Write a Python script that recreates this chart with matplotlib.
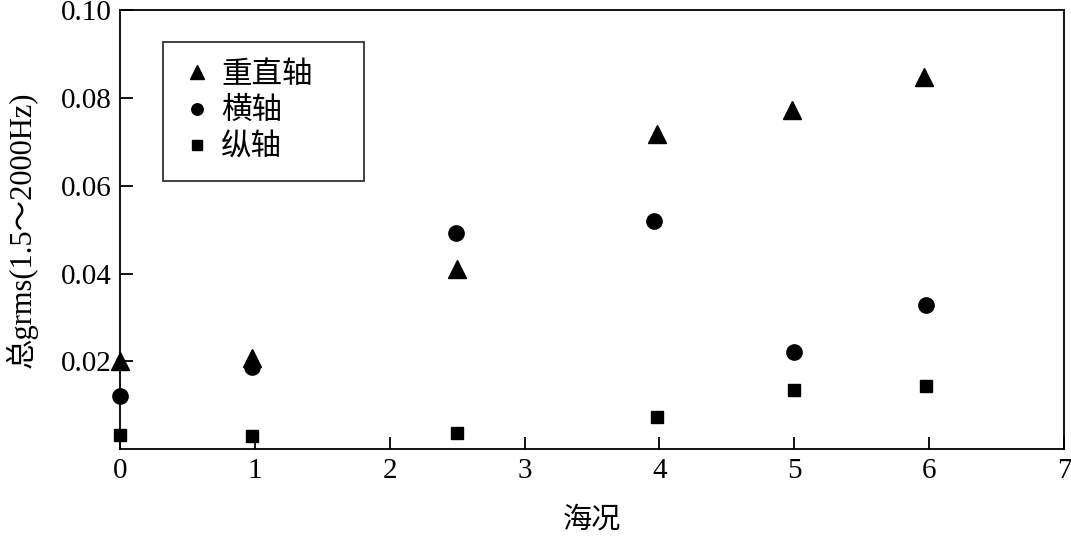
import matplotlib
matplotlib.use('Agg')
import matplotlib.pyplot as plt
import numpy as np

plt.rcParams['font.family'] = ['Liberation Serif', 'Noto Sans CJK SC']

# 海况
x_vert = [0.0, 0.98, 2.5, 3.98, 4.98, 5.96]
x_horz = [0.0, 0.98, 2.49, 3.96, 5.0, 5.98]
x_long = [0.0, 0.98, 2.5, 3.98, 5.0, 5.98]
# 总grms
y_vert = [0.0200, 0.0207, 0.0410, 0.0718, 0.0772, 0.0847]
y_horz = [0.0121, 0.0187, 0.0492, 0.0519, 0.0221, 0.0328]
y_long = [0.0032, 0.0030, 0.0036, 0.0073, 0.0134, 0.0144]

labels = ['重直轴', '横轴', '纵轴']

fig = plt.figure(figsize=[10.71, 5.36], dpi=100)
ax = fig.add_axes([0.112, 0.162, 0.8815, 0.819])

ax.plot(x_vert, y_vert, '^', color='black', markersize=12.5, ls='none',
        clip_on=False, label=labels[0])
ax.plot(x_horz, y_horz, 'o', color='black', markersize=11, ls='none',
        clip_on=False, label=labels[1])
ax.plot(x_long, y_long, 's', color='black', markersize=9, ls='none',
        clip_on=False, label=labels[2])

ax.set_xlim(0, 7)
ax.set_ylim(0, 0.10)
ax.set_xticks(range(0, 8))
ax.set_yticks([0.02, 0.04, 0.06, 0.08, 0.10])
ax.set_yticklabels(['0.02', '0.04', '0.06', '0.08', '0.10'])
ax.tick_params(direction='in', length=9, width=1.3, labelsize=21, pad=6)
for s in ax.spines.values():
    s.set_linewidth(1.3)

ax.set_xlabel('海况', fontsize=21, va='center')
ax.xaxis.set_label_coords(0.5, -0.162)
ax.set_ylabel('总grms(1.5～2000Hz)', fontsize=22, va='center')
ax.yaxis.set_label_coords(-0.104, 0.5)

leg = ax.legend(loc='upper left', bbox_to_anchor=(0.046, 0.927, 0.212, 0),
                mode='expand', fontsize=22,
                frameon=True, fancybox=False, edgecolor='black',
                handletextpad=0.3, borderpad=0.6, labelspacing=0.25,
                handlelength=1.0, borderaxespad=0, markerscale=0.75)
leg.get_frame().set_linewidth(1.3)

fig.savefig('out.png', dpi=100)
